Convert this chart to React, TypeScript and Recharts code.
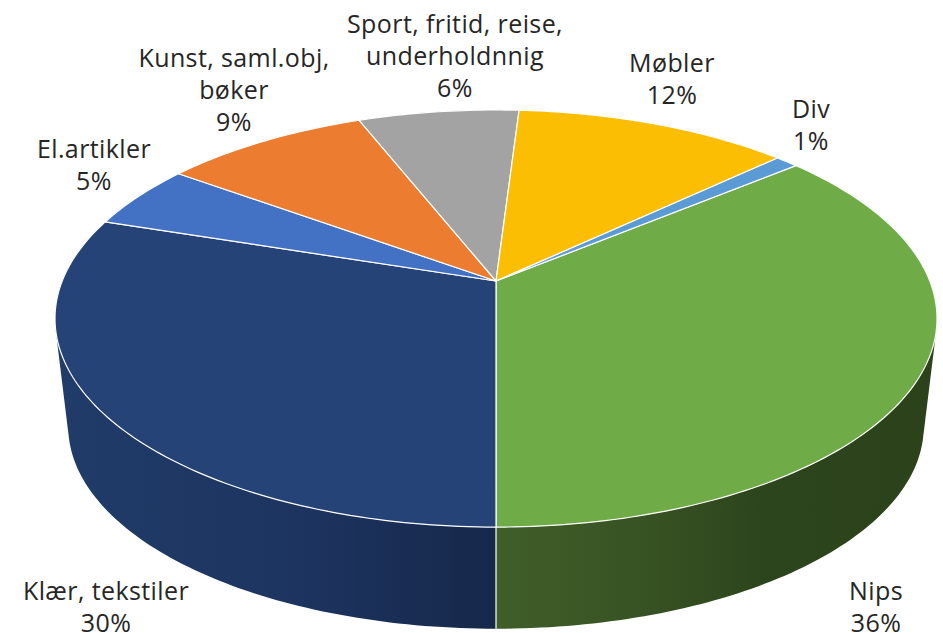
import { PieChart, Pie, Cell } from "recharts";

const categories = ["Nips", "Klær, tekstiler", "El.artikler", "Kunst, saml.obj, bøker", "Sport, fritid, reise, underholdnnig", "Møbler", "Div"];
const shares = [36, 30, 5, 9, 7, 12, 1];
const percentLabels = ["36%", "30%", "5%", "9%", "6%", "12%", "1%"];
const labelLines = [
  ["Nips"],
  ["Klær, tekstiler"],
  ["El.artikler"],
  ["Kunst, saml.obj,", "bøker"],
  ["Sport, fritid, reise,", "underholdnnig"],
  ["Møbler"],
  ["Div"],
];
const topColors = ["#6FAC47", "#254377", "#4371C3", "#EC7C30", "#A3A3A3", "#FBBE02", "#5B9BD5"];
const wallColors = ["url(#nipsWall)", "url(#klaerWall)", "#2f4f8a", "#a5541f", "#707070", "#b08400", "#3d6d99"];

const data = categories.map((name, i) => ({ name, value: shares[i] }));

// centre x and first baseline of every label
const labelAnchors = [
  [876, 600],
  [106, 600],
  [94, 158],
  [234, 67],
  [455, 33],
  [672, 72],
  [811, 118],
];

const WIDTH = 943;
const HEIGHT = 633;
const CX = 496;
const CY = 281;
// the tilted disc is a perspective view of a circle
const SCALE_X = 433.8;
const SCALE_Y = 201.8;
const PERSPECTIVE = 0.18;
const WALL_SHIFT = 109;
const WALL_SCALE = 0.97;

function project(angle: number, low = false) {
  const rad = (angle * Math.PI) / 180;
  const u = Math.cos(rad);
  const v = -Math.sin(rad);
  const w = 1 - PERSPECTIVE * v;
  const s = low ? WALL_SCALE : 1;
  return {
    x: CX + (s * SCALE_X * u) / w,
    y: CY + (low ? WALL_SHIFT : 0) + (s * SCALE_Y * v) / w,
  };
}

function arcPoints(from: number, to: number) {
  const steps = Math.max(2, Math.ceil(Math.abs(to - from)));
  const pts = [];
  for (let i = 0; i <= steps; i++) {
    const p = project(from + ((to - from) * i) / steps);
    pts.push(`${p.x.toFixed(2)},${p.y.toFixed(2)}`);
  }
  return pts;
}

function TopSlice(props: any) {
  const { startAngle, endAngle, fill } = props;
  const d = `M${CX},${CY}L${arcPoints(startAngle, endAngle).join("L")}Z`;
  return <path d={d} fill={fill} stroke="#fff" strokeWidth={1.2} strokeLinejoin="round" />;
}

// small quads in one path, all wound the same way so that nonzero fill gives their union
function WallSlice(props: any) {
  const { startAngle, endAngle, fill } = props;
  const steps = Math.max(2, Math.ceil(Math.abs(endAngle - startAngle)));
  let d = "";
  for (let i = 0; i < steps; i++) {
    const a0 = startAngle + ((endAngle - startAngle) * i) / steps;
    const a1 = startAngle + ((endAngle - startAngle) * (i + 1)) / steps;
    const p = [project(a0), project(a1), project(a1, true), project(a0, true)];
    let area = 0;
    p.forEach((q, k) => {
      const n = p[(k + 1) % 4];
      area += q.x * n.y - n.x * q.y;
    });
    if (area < 0) p.reverse();
    d += `M${p.map((q) => `${q.x.toFixed(2)},${q.y.toFixed(2)}`).join("L")}Z`;
  }
  const a = project(startAngle);
  const b = project(startAngle, true);
  return (
    <g>
      <path d={d} fill={fill} />
      <line x1={a.x} y1={a.y} x2={b.x} y2={b.y} stroke="#fff" strokeWidth={1.2} />
    </g>
  );
}

function SliceLabel(props: any) {
  const i = props.index;
  const [x, y] = labelAnchors[i];
  const lines = [...labelLines[i], percentLabels[i]];
  return (
    <text
      x={x}
      y={y}
      textAnchor="middle"
      fill="#262626"
      fontSize={25}
      letterSpacing={0.4}
      fontFamily="'Open Sans', sans-serif"
    >
      {lines.map((line, k) => (
        <tspan key={k} x={x} y={y + k * 32}>
          {line}
        </tspan>
      ))}
    </text>
  );
}

export default function App() {
  return (
    <div style={{ position: "absolute", left: 0, top: 0, width: WIDTH, height: HEIGHT, overflow: "hidden", background: "#fff" }}>
      <PieChart width={WIDTH} height={HEIGHT} margin={{ top: 0, right: 0, bottom: 0, left: 0 }}>
        <defs>
          <linearGradient id="nipsWall" gradientUnits="userSpaceOnUse" x1="496" y1="0" x2="936" y2="0">
            <stop offset="0" stopColor="#3f5e28" />
            <stop offset="0.3" stopColor="#395424" />
            <stop offset="0.6" stopColor="#2d451c" />
            <stop offset="1" stopColor="#2b421a" />
          </linearGradient>
          <linearGradient id="klaerWall" gradientUnits="userSpaceOnUse" x1="56" y1="0" x2="496" y2="0">
            <stop offset="0" stopColor="#203c69" />
            <stop offset="0.55" stopColor="#1d3460" />
            <stop offset="1" stopColor="#16284a" />
          </linearGradient>
        </defs>
        <Pie
          data={data}
          dataKey="value"
          cx={CX}
          cy={CY}
          outerRadius={200}
          startAngle={39.6}
          endAngle={-320.4}
          stroke="none"
          shape={WallSlice}
          isAnimationActive={false}
        >
          {wallColors.map((c, i) => (
            <Cell key={i} fill={c} />
          ))}
        </Pie>
        <Pie
          data={data}
          dataKey="value"
          cx={CX}
          cy={CY}
          outerRadius={200}
          startAngle={39.6}
          endAngle={-320.4}
          shape={TopSlice}
          label={SliceLabel}
          labelLine={false}
          isAnimationActive={false}
        >
          {topColors.map((c, i) => (
            <Cell key={i} fill={c} />
          ))}
        </Pie>
      </PieChart>
    </div>
  );
}
